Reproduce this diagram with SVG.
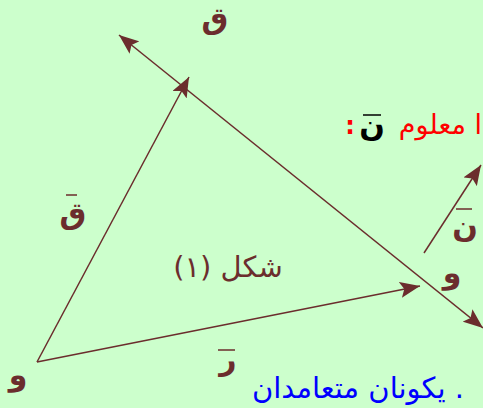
<svg xmlns="http://www.w3.org/2000/svg" width="483" height="408" viewBox="0 0 483 408">
<defs>
<style>
.ln{stroke:#6b2d2d;stroke-width:1.5;fill:none}
.lbl{fill:#6b2d2d;font-family:"DejaVu Sans","Noto Sans",sans-serif;font-size:30px;font-weight:bold}
.bar{stroke:#6b2d2d;stroke-width:1.5}
</style>
<marker id="ah" viewBox="0 0 20 16" refX="20" refY="8" markerWidth="20" markerHeight="16" markerUnits="userSpaceOnUse" orient="auto-start-reverse">
<path d="M0,0 L20,8 L0,16 L4,8 z" fill="#6b2d2d"/>
</marker>
</defs>
<rect width="483" height="408" fill="#ccffcc"/>
<g id="connectors">
<line class="ln" x1="37" y1="362" x2="189" y2="77" marker-end="url(#ah)"/>
<line class="ln" x1="37" y1="362" x2="420" y2="286" marker-end="url(#ah)"/>
<line class="ln" x1="119" y1="35" x2="483" y2="328" marker-start="url(#ah)" marker-end="url(#ah)"/>
<line class="ln" x1="424" y1="253" x2="481" y2="165" marker-end="url(#ah)"/>
</g>
<g id="label-q-top"><text class="lbl" x="215" y="29" text-anchor="middle" font-size="27">ق</text></g>
<g id="label-q-vec">
<line class="bar" x1="66" y1="195" x2="77" y2="195"/>
<text class="lbl" x="73" y="224" text-anchor="middle">ق</text>
</g>
<g id="label-fig"><text x="228" y="277" text-anchor="middle" font-family="DejaVu Sans, sans-serif" font-size="29" fill="#6b2d2d">شكل (١)</text></g>
<g id="label-r-vec">
<line class="bar" x1="218" y1="350" x2="235" y2="350"/>
<text class="lbl" x="228" y="370" text-anchor="middle">ر</text>
</g>
<g id="label-w-origin"><text class="lbl" x="18" y="385" text-anchor="middle">و</text></g>
<g id="label-w-right"><text class="lbl" x="452" y="283" text-anchor="middle">و</text></g>
<g id="label-n-vec">
<line class="bar" x1="456" y1="209" x2="472" y2="209"/>
<text class="lbl" x="465" y="237" text-anchor="middle">ن</text>
</g>
<g id="text-top-right">
<text x="482" y="134" text-anchor="end" font-family="DejaVu Sans, sans-serif" font-size="27" fill="#ff0000">ا معلوم</text>
<line x1="363" y1="115" x2="381" y2="115" stroke="#000" stroke-width="1.5"/>
<text x="372" y="136" text-anchor="middle" font-family="DejaVu Sans, sans-serif" font-size="30" font-weight="bold" fill="#000">ن</text>
<text x="350" y="134" text-anchor="middle" font-family="DejaVu Sans, sans-serif" font-size="24" font-weight="bold" fill="#ff0000">:</text>
</g>
<g id="text-bottom"><text x="358" y="398" text-anchor="middle" font-family="DejaVu Sans, sans-serif" font-size="29" fill="#0000ff">يكونان متعامدان .</text></g>
</svg>
